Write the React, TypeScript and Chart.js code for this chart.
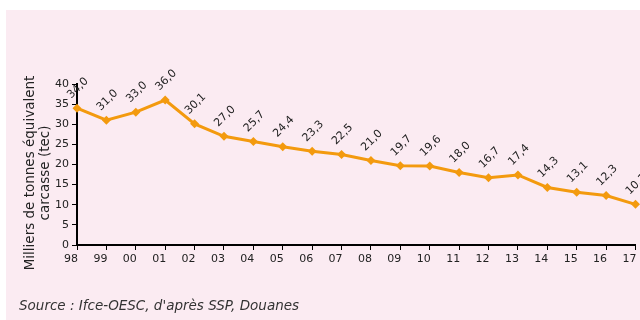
import React, { useEffect, useRef } from "react";
import { Chart, registerables } from "chart.js";

Chart.register(...registerables);

const years = ["98","99","00","01","02","03","04","05","06","07","08","09","10","11","12","13","14","15","16","17"];
const volumes = [34.0, 31.0, 33.0, 36.0, 30.1, 27.0, 25.7, 24.4, 23.3, 22.5, 21.0, 19.7, 19.6, 18.0, 16.7, 17.4, 14.3, 13.1, 12.3, 10.1];
const yTitle = ["Milliers de tonnes équivalent", "carcasse (tec)"];
const sourceText = "Source : Ifce-OESC, d'après SSP, Douanes";

const FONT = "'DejaVu Sans', Verdana, sans-serif";
const ORANGE = "#F39A0E";

const labelPlugin = {
  id: "valueLabels",
  afterDatasetsDraw(chart: any) {
    const ctx = chart.ctx;
    const meta = chart.getDatasetMeta(0);
    ctx.save();
    ctx.font = `11px ${FONT}`;
    ctx.fillStyle = "#222";
    ctx.textAlign = "center";
    ctx.textBaseline = "middle";
    meta.data.forEach((pt: any, i: number) => {
      const v = volumes[i];
      const txt = v.toFixed(1).replace(".", ",");
      ctx.save();
      ctx.translate(pt.x + 1, pt.y - 20);
      ctx.rotate(-Math.PI / 4);
      ctx.fillText(txt, 0, 0);
      ctx.restore();
    });
    ctx.restore();
  },
};

const yTitlePlugin = {
  id: "yTitle",
  afterDraw(chart: any) {
    const ctx = chart.ctx;
    ctx.save();
    ctx.font = `13.5px ${FONT}`;
    ctx.fillStyle = "#222";
    ctx.textAlign = "center";
    ctx.textBaseline = "middle";
    ctx.translate(30, 173);
    ctx.rotate(-Math.PI / 2);
    ctx.fillText(yTitle[0], 0, 0);
    ctx.fillText(yTitle[1], 0, 15);
    ctx.restore();
  },
};

export default function App() {
  const ref = useRef<HTMLCanvasElement>(null);
  useEffect(() => {
    if (!ref.current) return;
    const chart = new Chart(ref.current, {
      type: "line",
      data: {
        labels: years,
        datasets: [
          {
            data: volumes,
            borderColor: ORANGE,
            backgroundColor: ORANGE,
            borderWidth: 3,
            pointStyle: "rectRot",
            pointRadius: 4.5,
            pointBorderWidth: 0,
            tension: 0,
            clip: false as any,
          },
        ],
      },
      options: {
        animation: false,
        responsive: false,
        maintainAspectRatio: false,
        layout: { padding: { left: 0, top: 84, right: 4, bottom: 55 } },
        plugins: { legend: { display: false }, tooltip: { enabled: false } },
        scales: {
          x: {
            type: "category",
            offset: false,
            afterFit: (s: any) => { s.height = 20; s.paddingLeft = 0; s.paddingRight = 0; },
            grid: { drawOnChartArea: false, drawTicks: true, tickLength: 5, color: "#000", lineWidth: 1 },
            border: { display: true, color: "#000", width: 2 },
            ticks: { font: { family: FONT, size: 11 }, color: "#222", padding: 3, maxRotation: 0, autoSkip: false, labelOffset: -6 },
          },
          y: {
            min: 0,
            max: 40,
            afterFit: (s: any) => { s.width = 77; s.paddingTop = 0; s.paddingBottom = 0; },
            grid: { drawOnChartArea: false, drawTicks: true, tickLength: 5, color: "#000", lineWidth: 1 },
            border: { display: true, color: "#000", width: 2 },
            ticks: { stepSize: 5, font: { family: FONT, size: 11 }, color: "#222", padding: 3 },
          },
        },
      },
      plugins: [labelPlugin, yTitlePlugin],
    });
    return () => chart.destroy();
  }, []);

  return (
    <div style={{ position: "absolute", left: 0, top: 0, width: 640, height: 320, overflow: "hidden", background: "#fff" }}>
      <div style={{ position: "absolute", left: 6, top: 10, width: 634, height: 310, background: "#FBEBF2" }} />
      <canvas ref={ref} width={640} height={320} style={{ position: "absolute", left: 0, top: 0, width: 640, height: 320 }} />
      <div style={{ position: "absolute", left: 19, top: 297, fontFamily: FONT, fontStyle: "italic", fontSize: 13.5, lineHeight: "16px", color: "#333", whiteSpace: "nowrap" }}>
        {sourceText}
      </div>
    </div>
  );
}
